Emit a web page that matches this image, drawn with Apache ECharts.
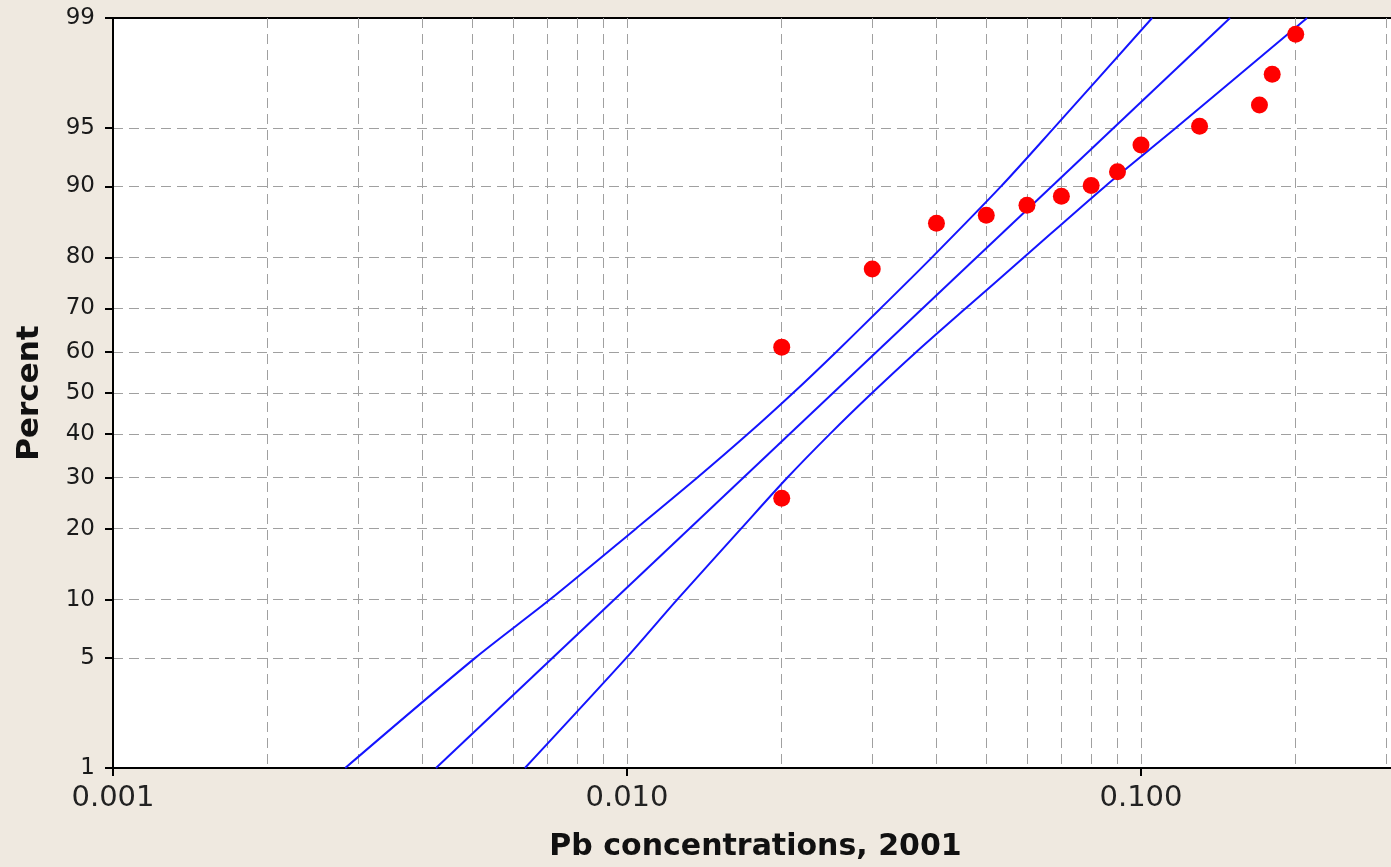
<!DOCTYPE html>
<html>
<head>
<meta charset="utf-8">
<script src="https://cdn.jsdelivr.net/npm/echarts@6/dist/echarts.min.js"></script>
<style>
  html, body { margin: 0; padding: 0; overflow: hidden; background: #EFE9E0; }
  #chart { width: 1400px; height: 867px; }
</style>
</head>
<body>
<div id="chart"></div>
<script>
// Observed Pb concentrations and their cumulative percentages
const pbValues  = [0.02, 0.02, 0.03, 0.04, 0.05, 0.06, 0.07, 0.08, 0.09, 0.10, 0.13, 0.17, 0.18, 0.20];
const pbPercent = [25.7, 61.2, 77.9, 85.4, 86.5, 87.8, 88.9, 90.1, 91.5, 93.8, 95.1, 96.3, 97.6, 98.7];

// Fitted lognormal line (end points at 1 % and 99 %)
const fitPercent = [1, 99];
const fitValues  = [0.00425, 0.149];

// Confidence band, read at each percent gridline
const bandPercent = [1, 5, 10, 20, 30, 40, 50, 60, 70, 80, 90, 95, 99];
const bandUpper   = [0.00283, 0.00506, 0.00708, 0.01041, 0.01371, 0.01720, 0.02104, 0.02550, 0.03113, 0.03921, 0.05341, 0.06772, 0.1051];
const bandLower   = [0.00633, 0.00996, 0.01252, 0.01667, 0.02052, 0.02483, 0.02997, 0.03650, 0.04556, 0.05921, 0.08511, 0.1170, 0.2104];

// Axis ticks
const percentTicks = [1, 5, 10, 20, 30, 40, 50, 60, 70, 80, 90, 95, 99];
const percentGrid  = [5, 10, 20, 30, 40, 50, 60, 70, 80, 90, 95];
const valueLabels  = [0.001, 0.01, 0.1];
const valueGrid    = [0.002, 0.003, 0.004, 0.005, 0.006, 0.007, 0.008, 0.009,
                      0.01, 0.02, 0.03, 0.04, 0.05, 0.06, 0.07, 0.08, 0.09,
                      0.1, 0.2, 0.3];

// Inverse standard normal CDF (Acklam's rational approximation)
function probit(p) {
  const a = [-3.969683028665376e+01, 2.209460984245205e+02, -2.759285104469687e+02, 1.383577518672690e+02, -3.066479806614716e+01, 2.506628277459239e+00];
  const b = [-5.447609879822406e+01, 1.615858368580409e+02, -1.556989798598866e+02, 6.680131188771972e+01, -1.328068155288572e+01];
  const c = [-7.784894002430293e-03, -3.223964580411365e-01, -2.400758277161838e+00, -2.549732539343734e+00, 4.374664141464968e+00, 2.938163982698783e+00];
  const d = [7.784695709041462e-03, 3.224671290700398e-01, 2.445134137142996e+00, 3.754408661907416e+00];
  const pl = 0.02425, ph = 1 - pl;
  let q, r;
  if (p < pl) {
    q = Math.sqrt(-2 * Math.log(p));
    return (((((c[0]*q+c[1])*q+c[2])*q+c[3])*q+c[4])*q+c[5]) / ((((d[0]*q+d[1])*q+d[2])*q+d[3])*q+1);
  }
  if (p <= ph) {
    q = p - 0.5; r = q * q;
    return (((((a[0]*r+a[1])*r+a[2])*r+a[3])*r+a[4])*r+a[5])*q / (((((b[0]*r+b[1])*r+b[2])*r+b[3])*r+b[4])*r+1);
  }
  q = Math.sqrt(-2 * Math.log(1 - p));
  return -(((((c[0]*q+c[1])*q+c[2])*q+c[3])*q+c[4])*q+c[5]) / ((((d[0]*q+d[1])*q+d[2])*q+d[3])*q+1);
}

// Probability-paper transforms: x on log10, y on normal quantile
const zOf = pct => probit(pct / 100);
const lx = v => Math.log10(v);
const pairs = (xs, ps) => xs.map((v, i) => [lx(v), zOf(ps[i])]);

const yTicks = percentTicks.map(zOf);
const yMin = zOf(1), yMax = zOf(99);
const xMin = -3, xMax = -0.5;

function percentLabel(v) {
  let best = 0;
  yTicks.forEach((t, i) => { if (Math.abs(t - v) < Math.abs(yTicks[best] - v)) best = i; });
  return String(percentTicks[best]);
}

const FONT = '"DejaVu Sans", Verdana, sans-serif';
const blue = '#1414ff';
const gridLine = { show: true, lineStyle: { color: '#a0a0a0', width: 1, type: [10, 6] } };

const chart = echarts.init(document.getElementById('chart'), null, { renderer: 'canvas' });
chart.setOption({
  animation: false,
  backgroundColor: '#EFE9E0',
  grid: {
    left: 113, right: 2, top: 18, bottom: 99,
    show: true, backgroundColor: '#ffffff', borderColor: '#000000', borderWidth: 2
  },
  xAxis: [
    {
      type: 'value', min: xMin, max: xMax, position: 'bottom',
      name: 'Pb concentrations, 2001', nameLocation: 'middle', nameGap: 64,
      nameTextStyle: { fontFamily: FONT, fontSize: 30, fontWeight: 'bold', color: '#111' },
      axisLine: { show: true, onZero: false, lineStyle: { color: '#000', width: 2 } },
      axisTick: { show: true, length: 8, customValues: valueLabels.map(lx), lineStyle: { color: '#000', width: 2 } },
      axisLabel: {
        customValues: valueLabels.map(lx), margin: 16,
        fontFamily: FONT, fontSize: 29, color: '#222',
        formatter: v => Math.pow(10, v).toFixed(3)
      },
      splitLine: { show: false }
    },
    {
      // dashed vertical gridlines at every 1..9 step of each decade
      type: 'value', min: xMin, max: xMax, position: 'bottom',
      axisLine: { show: false },
      axisTick: { show: false, customValues: valueGrid.map(lx) },
      axisLabel: { show: false },
      splitLine: gridLine
    }
  ],
  yAxis: [
    {
      type: 'value', min: yMin, max: yMax, position: 'left',
      name: 'Percent', nameLocation: 'middle', nameGap: 68, nameRotate: 90,
      nameTextStyle: { fontFamily: FONT, fontSize: 31, fontWeight: 'bold', color: '#111' },
      axisLine: { show: true, onZero: false, lineStyle: { color: '#000', width: 2 } },
      axisTick: { show: true, length: 8, customValues: yTicks, lineStyle: { color: '#000', width: 2 } },
      axisLabel: {
        customValues: yTicks, margin: 18,
        fontFamily: FONT, fontSize: 23, color: '#1a1a1a',
        formatter: percentLabel
      },
      splitLine: { show: false }
    },
    {
      // dashed horizontal gridlines inside the frame
      type: 'value', min: yMin, max: yMax, position: 'left',
      axisLine: { show: false },
      axisTick: { show: false, customValues: percentGrid.map(zOf) },
      axisLabel: { show: false },
      splitLine: gridLine
    }
  ],
  series: [
    {
      name: 'Upper bound', type: 'line', showSymbol: false, symbol: 'none', smooth: 0.3,
      lineStyle: { color: blue, width: 2 }, data: pairs(bandUpper, bandPercent)
    },
    {
      name: 'Fit', type: 'line', showSymbol: false, symbol: 'none',
      lineStyle: { color: blue, width: 2 }, data: pairs(fitValues, fitPercent)
    },
    {
      name: 'Lower bound', type: 'line', showSymbol: false, symbol: 'none', smooth: 0.3,
      lineStyle: { color: blue, width: 2 }, data: pairs(bandLower, bandPercent)
    },
    {
      name: 'Pb', type: 'scatter', symbol: 'circle', symbolSize: 17,
      itemStyle: { color: '#ff0000', opacity: 1 }, z: 5,
      data: pairs(pbValues, pbPercent)
    }
  ]
});
</script>
</body>
</html>
